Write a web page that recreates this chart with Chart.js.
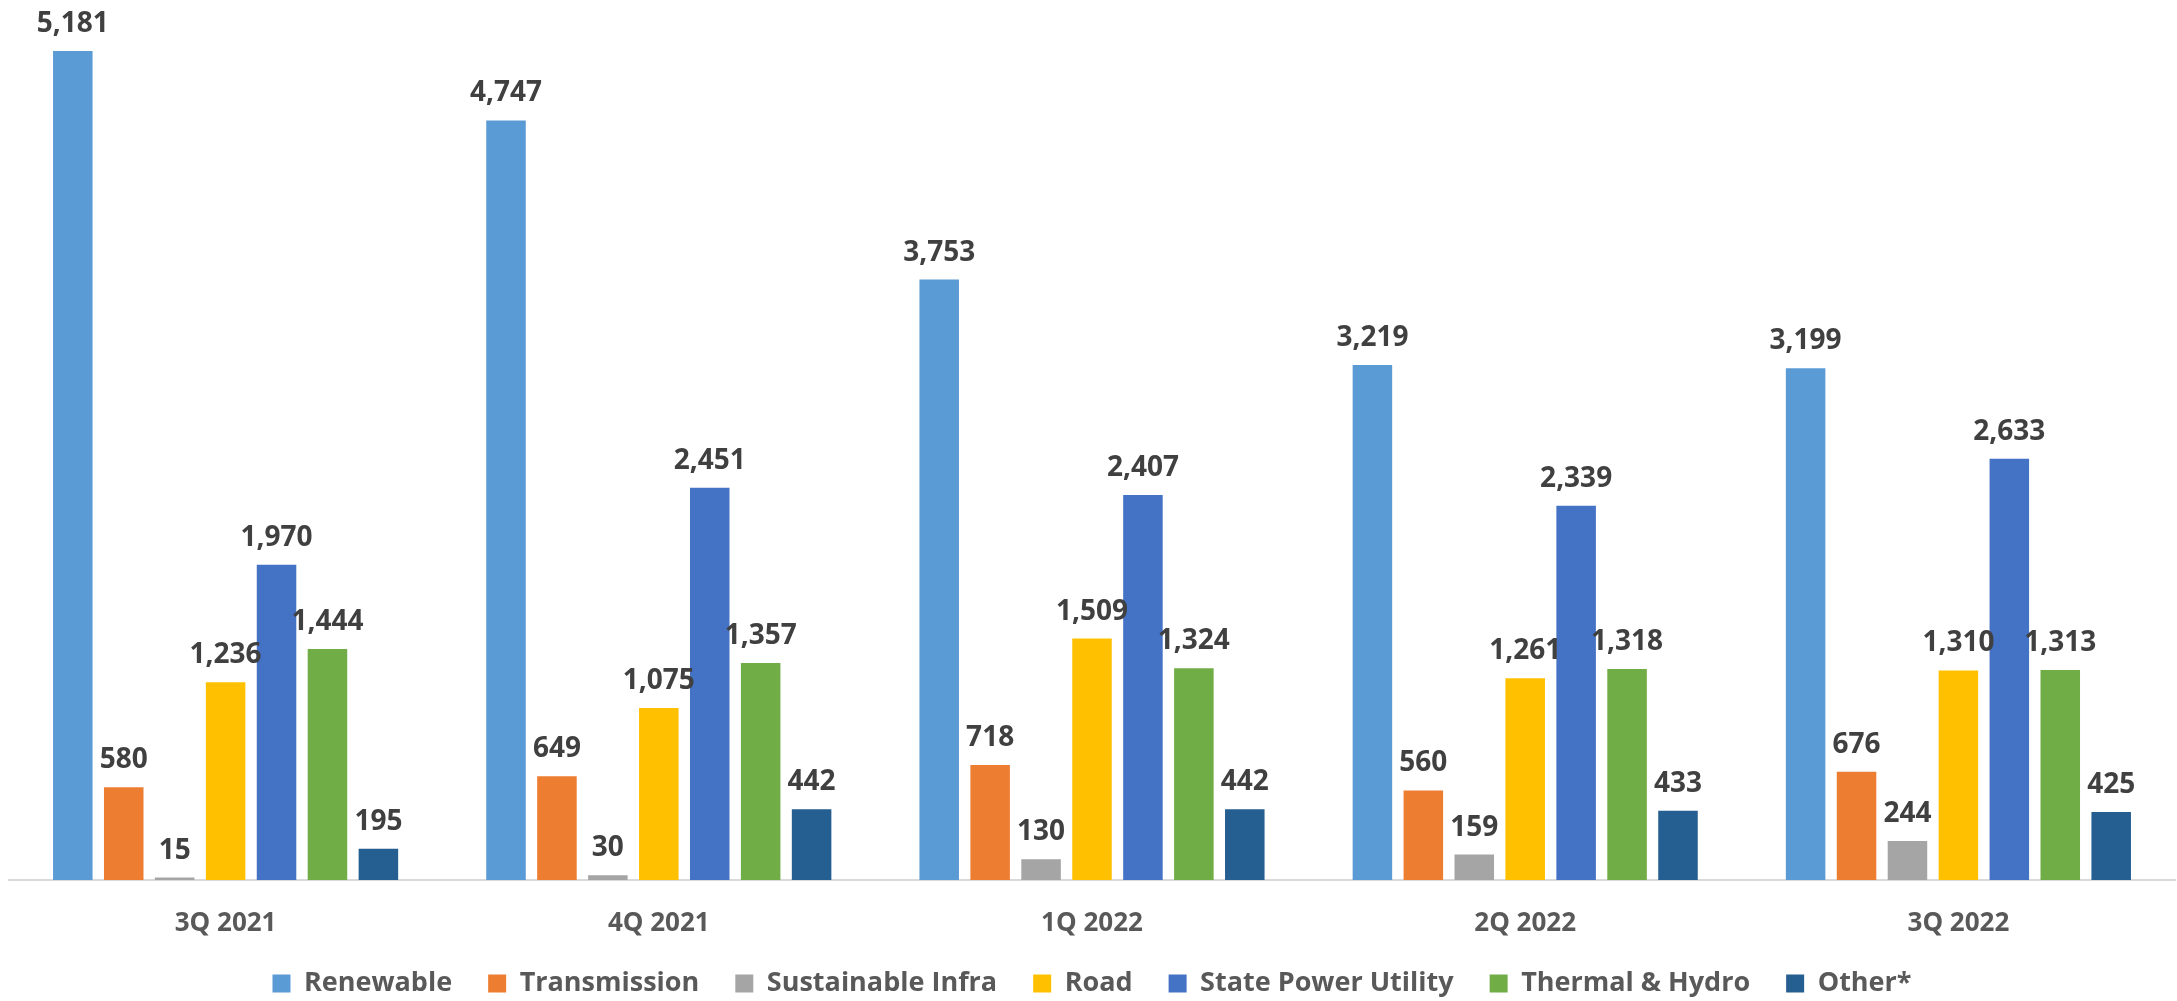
<!DOCTYPE html>
<html lang="en">
  <head>
    <meta charset="UTF-8" />
    <title>Portfolio by Segment</title>
    <script src="https://cdn.jsdelivr.net/npm/chart.js"></script>
    <style>
      html, body { margin: 0; padding: 0; background: #fff; }
      .chart-container { width: 2177px; height: 1001px; }
    </style>
  </head>
  <body>
    <div class="chart-container">
      <canvas id="barChart"></canvas>
    </div>
    <script>
      // Quarters and values per segment
      const quarters = ['3Q 2021', '4Q 2021', '1Q 2022', '2Q 2022', '3Q 2022'];
      const segments = ['Renewable', 'Transmission', 'Sustainable Infra', 'Road', 'State Power Utility', 'Thermal & Hydro', 'Other*'];
      const renewable = [5181, 4747, 3753, 3219, 3199];
      const transmission = [580, 649, 718, 560, 676];
      const sustainableInfra = [15, 30, 130, 159, 244];
      const road = [1236, 1075, 1509, 1261, 1310];
      const statePowerUtility = [1970, 2451, 2407, 2339, 2633];
      const thermalHydro = [1444, 1357, 1324, 1318, 1313];
      const other = [195, 442, 442, 433, 425];
      const colors = ['#5B9BD5', '#ED7D31', '#A5A5A5', '#FFC000', '#4472C4', '#70AD47', '#255E91'];

      const seriesData = [renewable, transmission, sustainableInfra, road, statePowerUtility, thermalHydro, other];

      // Value labels above each bar
      const valueLabels = {
        id: 'valueLabels',
        afterDatasetsDraw(chart) {
          const ctx = chart.ctx;
          ctx.save();
          ctx.font = 'bold 28px "Open Sans"';
          ctx.fillStyle = '#404040';
          ctx.textAlign = 'center';
          ctx.textBaseline = 'alphabetic';
          chart.data.datasets.forEach((ds, i) => {
            chart.getDatasetMeta(i).data.forEach((bar, j) => {
              ctx.fillText(ds.data[j].toLocaleString('en-US'), bar.x, bar.y - 19);
            });
          });
          ctx.restore();
        }
      };

      // Legend keeps wide item spacing but takes less height,
      // and its row is pulled up a bit so the axis labels aren't clipped
      const tightLegend = {
        id: 'tightLegend',
        beforeLayout(chart) {
          const lg = chart.legend;
          if (lg && !lg._trimmed) {
            const fit = lg.fit;
            lg.fit = function () {
              fit.call(this);
              this.height -= 23;
            };
            lg._trimmed = true;
          }
        },
        afterLayout(chart) {
          if (chart.legend) chart.legend.top -= 17;
        }
      };

      const ctxBar = document.getElementById('barChart').getContext('2d');
      new Chart(ctxBar, {
        type: 'bar',
        data: {
          labels: quarters,
          datasets: segments.map((name, i) => ({
            label: name,
            data: seriesData[i],
            backgroundColor: colors[i],
            categoryPercentage: 0.823,
            barPercentage: 0.776
          }))
        },
        options: {
          responsive: true,
          maintainAspectRatio: false,
          animation: false,
          layout: { padding: { top: 0, left: 9, right: 2, bottom: 0 } },
          scales: {
            y: {
              display: false,
              min: 0,
              max: 5500
            },
            x: {
              grid: { display: false },
              border: { color: '#D9D9D9', width: 2 },
              afterFit(scale) { scale.height = 71; },
              ticks: {
                color: '#595959',
                padding: 20,
                font: { family: 'Open Sans', size: 26, weight: 'bold' }
              }
            }
          },
          plugins: {
            tooltip: { enabled: false },
            legend: {
              position: 'bottom',
              labels: {
                color: '#595959',
                boxWidth: 18,
                boxHeight: 18,
                padding: 36,
                font: { family: 'Open Sans', size: 27, weight: 'bold' }
              }
            }
          }
        },
        plugins: [valueLabels, tightLegend]
      });
    </script>
  </body>
</html>
